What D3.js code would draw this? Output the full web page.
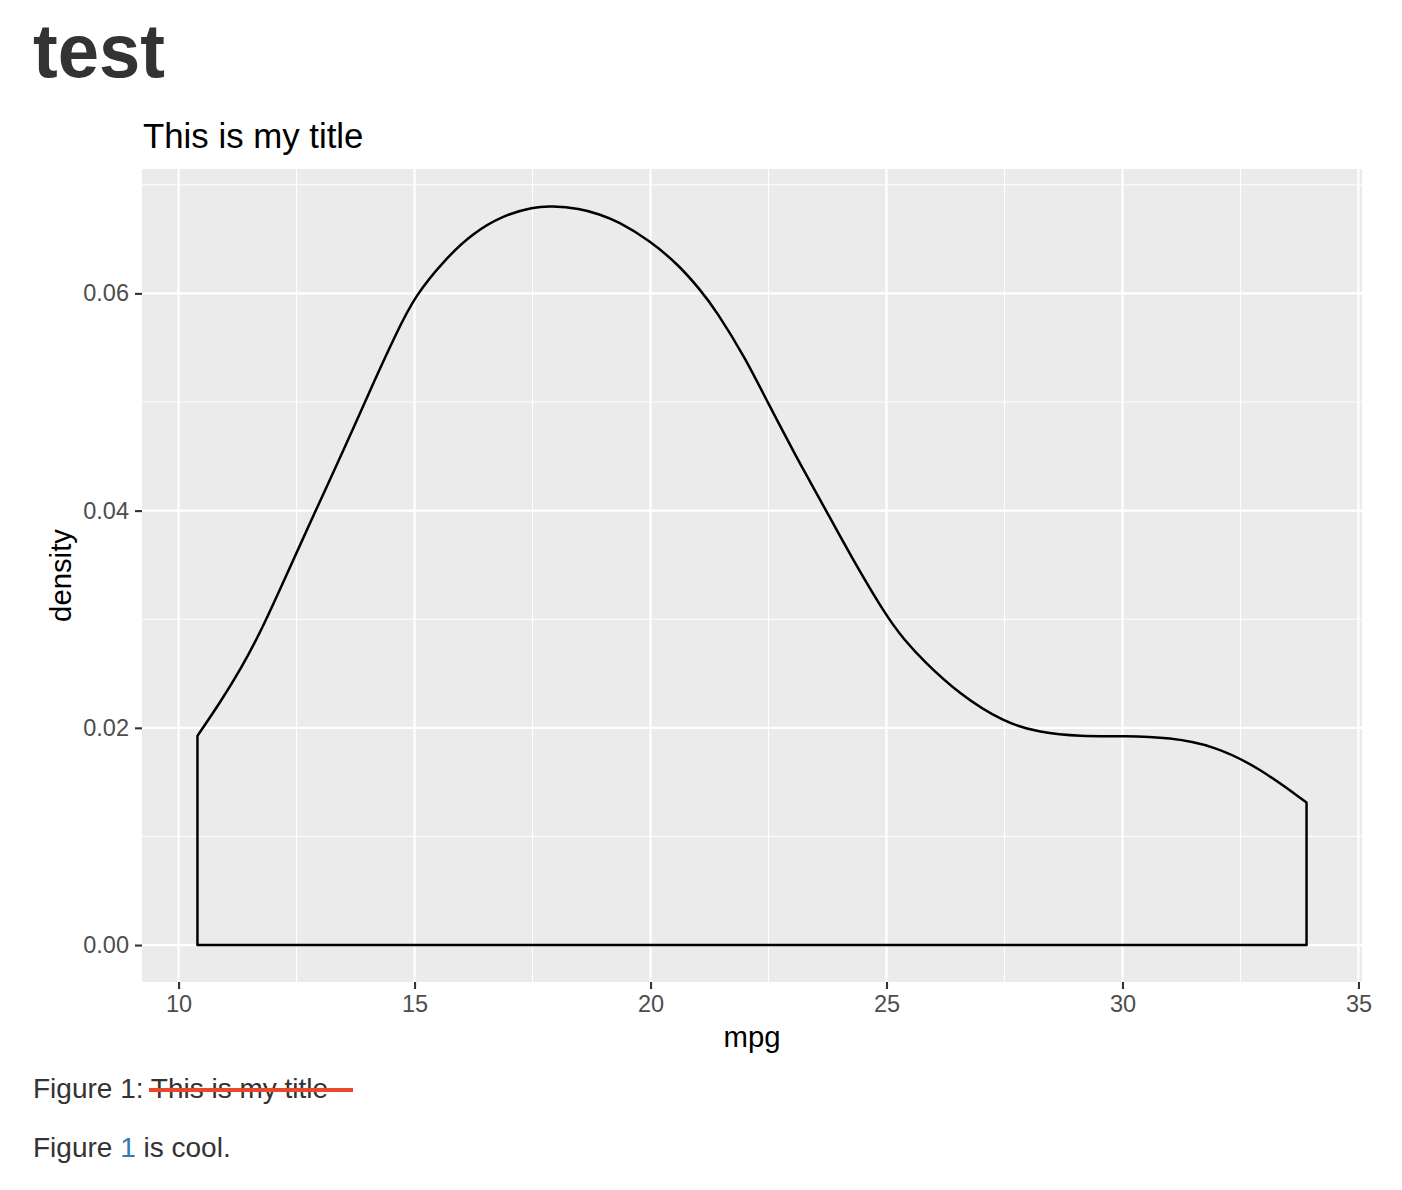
<!DOCTYPE html>
<html>
<head>
<meta charset="utf-8">
<script src="https://cdn.jsdelivr.net/npm/d3@7"></script>
<style>
  html, body { margin: 0; padding: 0; background: #fff; }
  svg { display: block; font-family: "Liberation Sans", Arial, Helvetica, sans-serif; }
</style>
</head>
<body>
<svg id="chart" width="1402" height="1190"></svg>
<script>
// ---- data ----
const mpgValues = [10.4, 10.88, 11.32, 11.77, 12.25, 12.92, 13.48, 14.15, 14.6, 15.01, 15.66, 16.23, 16.88, 17.52, 17.89, 18.5, 18.92, 19.3, 19.98, 20.6, 21.04, 21.39, 22.03, 22.46, 23.13, 23.37, 23.72, 24.22, 24.99, 25.38, 25.78, 26.54, 27.49, 28.24, 29.1, 30.05, 31.0, 31.95, 32.89, 33.9];
const densityValues = [0.01926, 0.02233, 0.02541, 0.0291, 0.03371, 0.04016, 0.0454, 0.05198, 0.0562, 0.0598, 0.0632, 0.06553, 0.06719, 0.06795, 0.06805, 0.06781, 0.06728, 0.06665, 0.06488, 0.0626, 0.0604, 0.05843, 0.05389, 0.05014, 0.04461, 0.04276, 0.04, 0.03601, 0.0303, 0.02808, 0.02618, 0.02311, 0.02049, 0.01957, 0.0192, 0.01926, 0.01911, 0.01834, 0.01634, 0.01312];
const xTicks = [10, 15, 20, 25, 30, 35];
const xMinorTicks = [12.5, 17.5, 22.5, 27.5, 32.5];
const yTicks = [0, 0.02, 0.04, 0.06];
const yMinorTicks = [0.01, 0.03, 0.05, 0.07];
const headingText = "test";
const titleText = "This is my title";
const xLabel = "mpg";
const yLabel = "density";

// ---- layout ----
const svg = d3.select("#chart");
const panel = { left: 142, top: 169, right: 1362, bottom: 982 };

const xRange = d3.extent(mpgValues);
const xPad = (xRange[1] - xRange[0]) * 0.05;
const yMax = d3.max(densityValues);
const yPad = yMax * 0.05;

const x = d3.scaleLinear().domain([xRange[0] - xPad, xRange[1] + xPad]).range([panel.left, panel.right]);
const y = d3.scaleLinear().domain([-yPad, yMax + yPad]).range([panel.bottom, panel.top]);

// heading
svg.append("text").attr("x", 33).attr("y", 77)
  .attr("font-size", 76).attr("font-weight", "bold").attr("fill", "#333333")
  .attr("textLength", 132).attr("lengthAdjust", "spacingAndGlyphs")
  .text(headingText);

// plot title
svg.append("text").attr("x", panel.left + 1).attr("y", 148)
  .attr("font-size", 34.8).attr("fill", "#000")
  .text(titleText);

// panel background
svg.append("rect")
  .attr("x", panel.left).attr("y", panel.top)
  .attr("width", panel.right - panel.left).attr("height", panel.bottom - panel.top)
  .attr("fill", "#EBEBEB");

const grid = svg.append("g");
grid.selectAll(".xminor").data(xMinorTicks).join("line")
  .attr("x1", d => x(d)).attr("x2", d => x(d))
  .attr("y1", panel.top).attr("y2", panel.bottom)
  .attr("stroke", "#fff").attr("stroke-width", 1.1);
grid.selectAll(".yminor").data(yMinorTicks).join("line")
  .attr("y1", d => y(d)).attr("y2", d => y(d))
  .attr("x1", panel.left).attr("x2", panel.right)
  .attr("stroke", "#fff").attr("stroke-width", 1.1);
grid.selectAll(".xmajor").data(xTicks).join("line")
  .attr("x1", d => x(d)).attr("x2", d => x(d))
  .attr("y1", panel.top).attr("y2", panel.bottom)
  .attr("stroke", "#fff").attr("stroke-width", 2.2);
grid.selectAll(".ymajor").data(yTicks).join("line")
  .attr("y1", d => y(d)).attr("y2", d => y(d))
  .attr("x1", panel.left).attr("x2", panel.right)
  .attr("stroke", "#fff").attr("stroke-width", 2.2);

// density outline
const pts = mpgValues.map((m, i) => [m, densityValues[i]]);
const area = d3.area()
  .x(d => x(d[0]))
  .y0(y(0))
  .y1(d => y(d[1]))
  .curve(d3.curveBasis);
svg.append("path").datum(pts)
  .attr("d", area)
  .attr("fill", "none")
  .attr("stroke", "#000")
  .attr("stroke-width", 2.5)
  .attr("stroke-linejoin", "round");

// axes
const xAxis = svg.append("g").attr("transform", `translate(0,${panel.bottom})`)
  .call(d3.axisBottom(x).tickValues(xTicks).tickSize(7).tickPadding(6).tickFormat(d3.format("d")));
const yAxis = svg.append("g").attr("transform", `translate(${panel.left},0)`)
  .call(d3.axisLeft(y).tickValues(yTicks).tickSize(7).tickPadding(6).tickFormat(d3.format(".2f")));
[xAxis, yAxis].forEach(a => {
  a.select(".domain").remove();
  a.selectAll(".tick line").attr("stroke", "#333333").attr("stroke-width", 2.1);
  a.selectAll(".tick text").attr("fill", "#4D4D4D").attr("font-size", 23.5)
    .attr("font-family", "\"Liberation Sans\", Arial, Helvetica, sans-serif");
});

// axis titles
svg.append("text").attr("x", (panel.left + panel.right) / 2).attr("y", 1047)
  .attr("text-anchor", "middle").attr("font-size", 29.3).attr("fill", "#000")
  .text(xLabel);
svg.append("text")
  .attr("transform", `translate(71,${(panel.top + panel.bottom) / 2}) rotate(-90)`)
  .attr("text-anchor", "middle").attr("font-size", 29.3).attr("fill", "#000")
  .text(yLabel);

// caption
const cap = svg.append("text").attr("x", 33).attr("y", 1098)
  .attr("font-size", 28).attr("fill", "#333333");
cap.append("tspan").text("Figure 1: ");
cap.append("tspan").text(titleText);
svg.append("line").attr("x1", 149).attr("x2", 353).attr("y1", 1090).attr("y2", 1090)
  .attr("stroke", "#E8492A").attr("stroke-width", 4);

const p2 = svg.append("text").attr("x", 33).attr("y", 1157)
  .attr("font-size", 28).attr("fill", "#333333");
p2.append("tspan").text("Figure ");
p2.append("tspan").attr("fill", "#337AB7").text("1");
p2.append("tspan").text(" is cool.");
</script>
</body>
</html>
